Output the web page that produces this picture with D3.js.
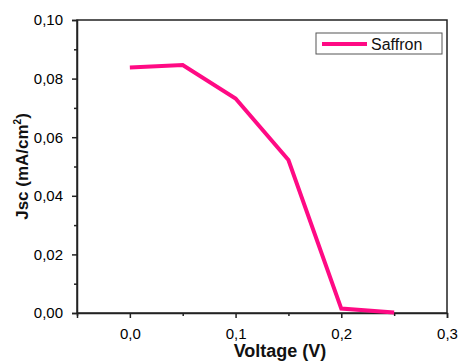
<!DOCTYPE html>
<html>
<head>
<meta charset="utf-8">
<script src="https://cdn.jsdelivr.net/npm/d3@7"></script>
<style>
  html, body { margin: 0; padding: 0; background: #ffffff; }
  svg { display: block; font-family: "Liberation Sans", Arial, sans-serif; }
</style>
</head>
<body>
<svg id="chart" width="460" height="362"></svg>
<script>
// Short-circuit current density vs. voltage for the saffron-sensitised cell
const seriesName = "Saffron";
const voltage = [0.00, 0.05, 0.10, 0.15, 0.20, 0.25];
const jsc = [0.0838, 0.0846, 0.0732, 0.0522, 0.0015, 0.0002];
const xTicks = [0.0, 0.1, 0.2, 0.3];
const xMinor = [-0.05, 0.05, 0.15, 0.25];
const yTicks = [0.00, 0.02, 0.04, 0.06, 0.08, 0.10];
const yMinor = [0.01, 0.03, 0.05, 0.07, 0.09];

const svg = d3.select("#chart");
const margin = { left: 77, right: 13, top: 20, bottom: 49 };
const W = 460, H = 362;

const x = d3.scaleLinear().domain([-0.05, 0.3]).range([margin.left, W - margin.right]);
const y = d3.scaleLinear().domain([0, 0.10]).range([H - margin.bottom, margin.top]);

const fmt = (d, n) => d.toFixed(n).replace(".", ",");

// frame
svg.append("rect")
  .attr("x", x.range()[0]).attr("y", y.range()[1])
  .attr("width", x.range()[1] - x.range()[0])
  .attr("height", y.range()[0] - y.range()[1])
  .attr("fill", "none").attr("stroke", "#222").attr("stroke-width", 1.5);

// x axis
svg.append("g").attr("transform", `translate(0,${y.range()[0]})`)
  .call(d3.axisBottom(x).tickValues(xTicks).tickFormat(d => fmt(d, 1)).tickSize(5).tickPadding(10));
svg.append("g").attr("transform", `translate(0,${y.range()[0]})`)
  .call(d3.axisBottom(x).tickValues(xMinor).tickFormat("").tickSize(3))
  .call(g => g.select(".domain").remove());

// y axis
svg.append("g").attr("transform", `translate(${x.range()[0]},0)`)
  .call(d3.axisLeft(y).tickValues(yTicks).tickFormat(d => fmt(d, 2)).tickSize(5).tickPadding(9));
svg.append("g").attr("transform", `translate(${x.range()[0]},0)`)
  .call(d3.axisLeft(y).tickValues(yMinor).tickFormat("").tickSize(3))
  .call(g => g.select(".domain").remove());

svg.selectAll(".tick line").attr("stroke", "#222").attr("stroke-width", 1.5);
svg.selectAll(".domain").attr("stroke", "#222").attr("stroke-width", 1.5);
svg.selectAll(".tick text").attr("font-size", 15).attr("fill", "#000")
  .attr("font-family", "'Liberation Sans', Arial, sans-serif");

// axis titles
svg.append("text")
  .attr("x", 280).attr("y", 357)
  .attr("text-anchor", "middle").attr("font-size", 18).attr("font-weight", "bold").attr("fill", "#111")
  .text("Voltage (V)");

const yt = svg.append("text")
  .attr("transform", `translate(28,${(y.range()[0] + y.range()[1]) / 2}) rotate(-90)`)
  .attr("text-anchor", "middle").attr("font-size", 17).attr("font-weight", "bold").attr("fill", "#111");
yt.append("tspan").text("Jsc (mA/cm");
yt.append("tspan").attr("font-size", 10).attr("dy", -7).text("2");
yt.append("tspan").attr("dy", 7).text(")");

// data line
const pts = voltage.map((v, i) => [v, jsc[i]]);
svg.append("path")
  .datum(pts)
  .attr("fill", "none").attr("stroke", "#ff0a84").attr("stroke-width", 4)
  .attr("stroke-linejoin", "miter")
  .attr("d", d3.line().x(d => x(d[0])).y(d => y(d[1])));

// legend
const lg = svg.append("g").attr("transform", "translate(316,33)");
lg.append("rect").attr("width", 126).attr("height", 21)
  .attr("fill", "#fff").attr("stroke", "#555").attr("stroke-width", 1);
lg.append("line").attr("x1", 6).attr("x2", 51).attr("y1", 11).attr("y2", 11)
  .attr("stroke", "#ff0a84").attr("stroke-width", 4);
lg.append("text").attr("x", 55).attr("y", 16.5).attr("font-size", 16).attr("fill", "#111")
  .text(seriesName);
</script>
</body>
</html>
